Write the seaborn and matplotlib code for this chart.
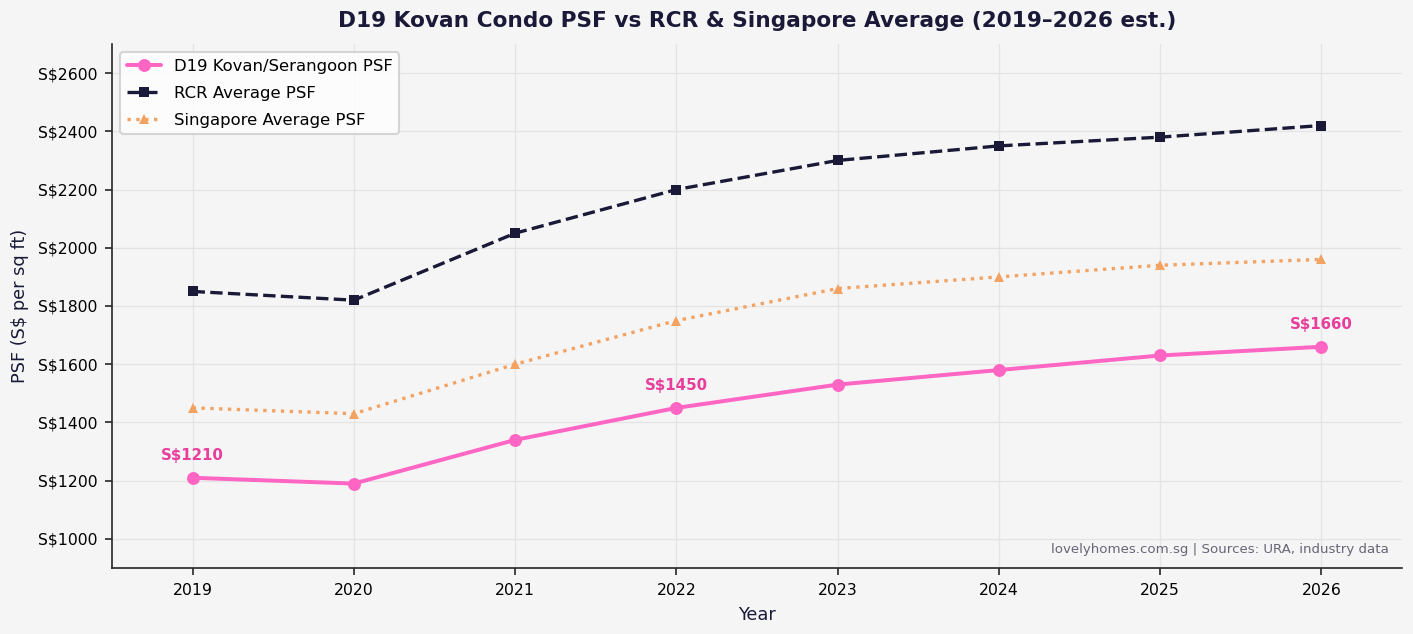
import pandas as pd
import matplotlib.pyplot as plt
import seaborn as sns

years = [2019, 2020, 2021, 2022, 2023, 2024, 2025, 2026]
d19_psf = [1210, 1190, 1340, 1450, 1530, 1580, 1630, 1660]
rcr_psf = [1850, 1820, 2050, 2200, 2300, 2350, 2380, 2420]
sg_psf = [1450, 1430, 1600, 1750, 1860, 1900, 1940, 1960]
label_years = [2019, 2022, 2026]

BG = '#f5f5f5'
NAVY = '#1a1a38'

sns.set_style('ticks')
plt.rcParams['font.family'] = ['DejaVu Sans']

df = pd.DataFrame({'Year': years, 'D19': d19_psf, 'RCR': rcr_psf, 'SG': sg_psf})

fig, ax = plt.subplots(figsize=(1413 / 150, 634 / 150), dpi=150)
fig.patch.set_facecolor(BG)
ax.set_facecolor(BG)

sns.lineplot(data=df, x='Year', y='D19', ax=ax, color='#ff66c4', linewidth=1.9,
             marker='o', markersize=6.2, markeredgewidth=0,
             label='D19 Kovan/Serangoon PSF')
sns.lineplot(data=df, x='Year', y='RCR', ax=ax, color=NAVY, linewidth=1.6,
             linestyle='--', marker='s', markersize=5.2, markeredgewidth=0,
             label='RCR Average PSF')
sns.lineplot(data=df, x='Year', y='SG', ax=ax, color='#f4a261', linewidth=1.6,
             linestyle=':', marker='^', markersize=5.2, markeredgewidth=0,
             label='Singapore Average PSF')

for yr, v in zip(years, d19_psf):
    if yr in label_years:
        ax.annotate(f'S${v}', (yr, v), xytext=(0, 7), textcoords='offset points',
                    ha='center', va='bottom', fontsize=7.2, fontweight='bold',
                    color='#e83e9c')

ax.set_xlim(2018.5, 2026.5)
ax.set_ylim(900, 2700)
ax.set_xticks(years)
ax.set_yticks(range(1000, 2700, 200))
ax.set_yticklabels([f'S${v}' for v in range(1000, 2700, 200)])
ax.tick_params(labelsize=7.5, labelcolor='black')
ax.grid(True, color='#e0e0e0', linewidth=0.6, alpha=0.8)
sns.despine(ax=ax)

ax.set_xlabel('Year', fontsize=8.5, color=NAVY)
ax.set_ylabel('PSF (S$ per sq ft)', fontsize=8.5, color=NAVY)
ax.set_title('D19 Kovan Condo PSF vs RCR & Singapore Average (2019–2026 est.)',
             fontsize=10.4, fontweight='bold', color=NAVY, pad=8)

ax.legend(loc='upper left', fontsize=7.9, frameon=True, facecolor='white',
          edgecolor='#cccccc', handlelength=2.05, labelcolor='black',
          labelspacing=0.72)

ax.text(0.99, 0.022, 'lovelyhomes.com.sg | Sources: URA, industry data',
        transform=ax.transAxes, ha='right', va='bottom', fontsize=6.4, color='#666677')

fig.subplots_adjust(left=112 / 1413, right=1402 / 1413, top=1 - 44 / 634, bottom=1 - 568 / 634)
fig.savefig('out.png', dpi=150, facecolor=BG)
